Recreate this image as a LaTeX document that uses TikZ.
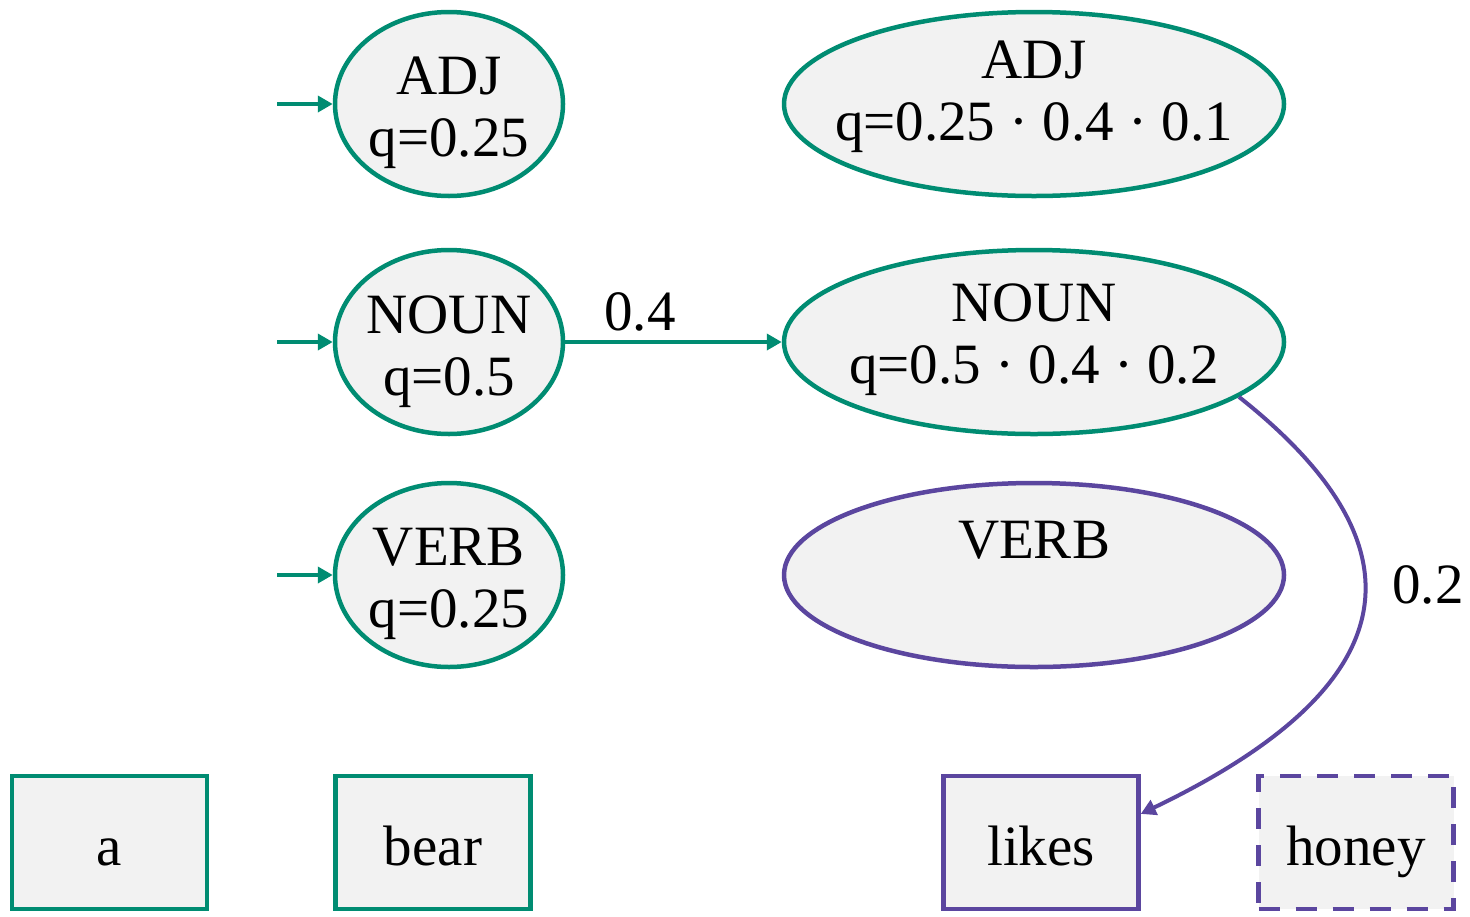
\documentclass[tikz,border=0pt]{standalone}
\usepackage{fontspec}
\setmainfont{Liberation Serif}
\usetikzlibrary{arrows.meta,shapes.geometric,calc}
\definecolor{tgreen}{HTML}{008C72}
\definecolor{tpurple}{HTML}{5B469F}
\definecolor{tfill}{HTML}{F2F2F2}
\tikzset{
  base/.style={line width=2.25pt,fill=tfill,inner sep=0pt},
  smallell/.style={base,ellipse,minimum width=114pt,minimum height=92pt},
  bigell/.style={base,ellipse,minimum width=250pt,minimum height=92pt},
  wordbox/.style={base,rectangle,minimum width=97.5pt,minimum height=66.5pt,text height=0.8em,text depth=0pt},
  txt/.style={align=center,inner sep=0pt},
  conn/.style={line width=2pt,-{Triangle[length=7.5pt,width=8pt]}},
}
\begin{document}
\begin{tikzpicture}[x=0.5pt,y=-0.5pt]
\fontsize{28.5}{31}\selectfont
\useasboundingbox (0,0) rectangle (1470,916);
% left column
\node[smallell,draw=tgreen] (adjL) at (449,104) {};
\node[smallell,draw=tgreen] (nounL) at (449,342) {};
\node[smallell,draw=tgreen] (verbL) at (449,575) {};
\node[txt] (adjLt) at (449,113) {ADJ\\q=0.25};
\node[txt] (nounLt) at (449,352) {NOUN\\q=0.5};
\node[txt] (verbLt) at (449,584) {VERB\\q=0.25};
% right column
\node[bigell,draw=tgreen] (adjR) at (1034,104) {};
\node[bigell,draw=tgreen] (nounR) at (1034,342) {};
\node[bigell,draw=tpurple] (verbR) at (1034,575) {};
\node[txt] (adjRt) at (1034,97) {ADJ\\q=0.25 · 0.4 · 0.1};
\node[txt] (nounRt) at (1034,340) {NOUN\\q=0.5 · 0.4 · 0.2};
\node[txt] (verbRt) at (1034,540) {VERB};
% words
\node[wordbox,draw=tgreen] (a) at (109.5,842.5) {a};
\node[wordbox,draw=tgreen] (bear) at (433,842.5) {bear};
\node[wordbox,draw=tpurple] (likes) at (1041,842.5) {likes};
\node[wordbox,draw=tpurple,dash pattern=on 10.5pt off 8pt] (honey) at (1356,842.5) {honey};
% input arrows
\coordinate (inA) at (277,104);
\coordinate (inN) at (277,342);
\coordinate (inV) at (277,575);
\draw[conn,tgreen] (inA) -- (adjL);
\draw[conn,tgreen] (inN) -- (nounL);
\draw[conn,tgreen] (inV) -- (verbL);
% transitions
\draw[conn,tgreen] (nounL) -- (nounR);
\node[txt] (l04) at (640,312) {0.4};
\draw[conn,tpurple] (nounR.-15) .. controls (1420,540) and (1420,680) .. (likes.16);
\node[txt] (l02) at (1428,585) {0.2};
\end{tikzpicture}
\end{document}
